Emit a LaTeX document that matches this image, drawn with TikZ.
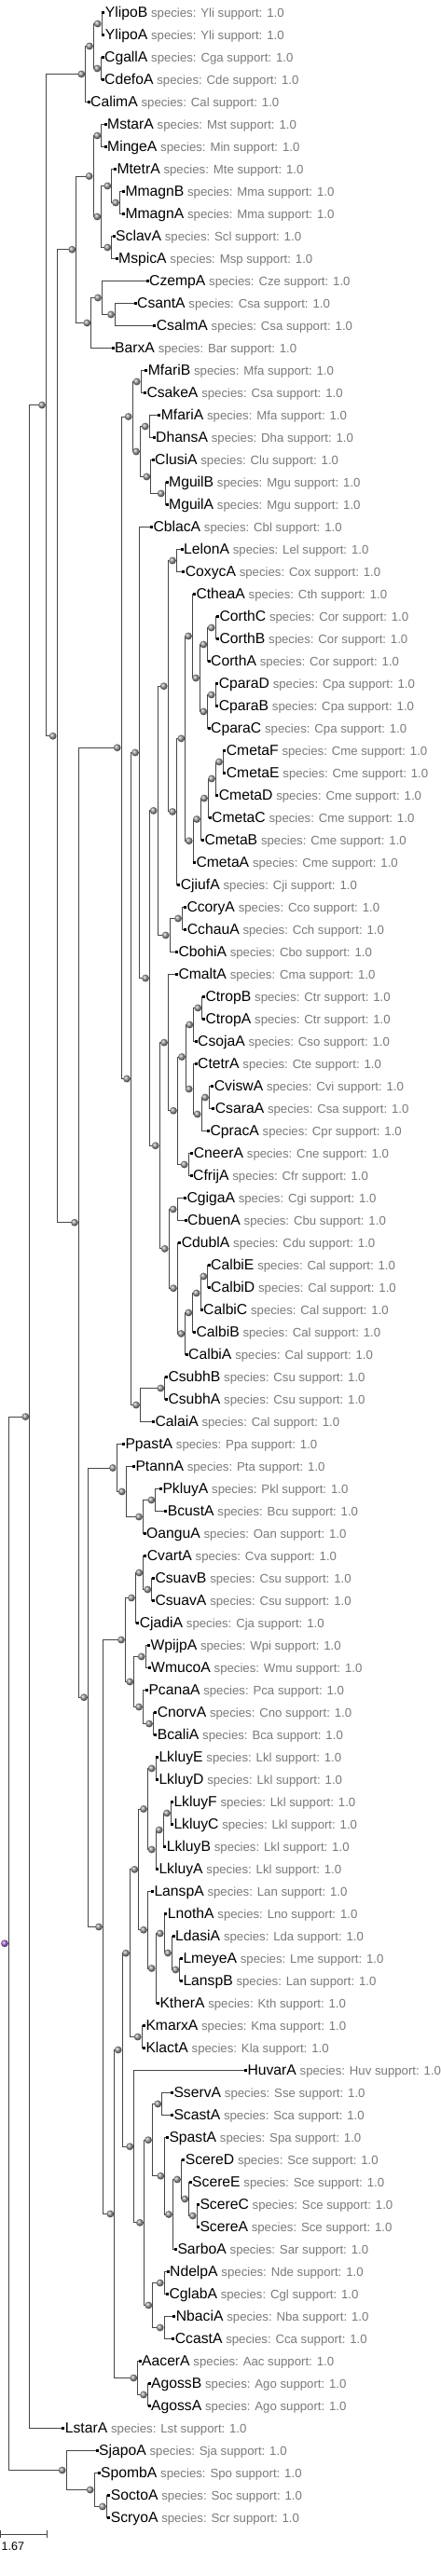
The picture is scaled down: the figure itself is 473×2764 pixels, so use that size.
\documentclass[tikz,border=0pt]{standalone}
\usepackage{fontspec}
\setmainfont{Liberation Sans}
\usetikzlibrary{calc}
\pgfdeclarelayer{bg}
\pgfsetlayers{bg,main}
\definecolor{spgray}{RGB}{122,122,122}
\definecolor{lnc}{RGB}{70,70,70}
\definecolor{rootc}{RGB}{165,100,215}
\newcommand\namefont{\fontsize{15.7bp}{18bp}\selectfont}
\newcommand\specfont{\fontsize{13.2bp}{15bp}\selectfont}
\tikzset{
  br/.style={draw=lnc, line width=1bp},
  sq/.style={rectangle, fill=black, inner sep=0pt, minimum size=3bp},
  sph/.style={circle, inner sep=0pt, minimum size=7.8bp, ball color=gray!80},
  rootsph/.style={circle, inner sep=0pt, minimum size=7.8bp, ball color=rootc},
  lbl/.style={anchor=base west, inner sep=0pt, font=\namefont, text=black}
}
\newcommand\tleaf[4]{%
  \coordinate (#1) at (#3,{24*#2-10.5});
  \node[sq] (#1q) at (#1) {};
  \node[lbl] (#1t) at ($(#1)+(2,5.3)$) {#1\hspace{3.8bp}{\specfont\color{spgray}species: #4 support: 1.0}};
}
\newcommand\tnode[5][sph]{%
  \path let \p1=($(#4)!0.5!(#5)$) in coordinate (#2) at (#3bp,\y1) coordinate (#2v) at (#3bp+4.3bp,\y1);
  \begin{pgfonlayer}{bg}\draw[br] (#4) -- (#2v |- #4) -- (#2v |- #5) -- (#5);\end{pgfonlayer}
  \node[#1] (#2s) at (#2) {};
}
\begin{document}
\begin{tikzpicture}[x=1bp,y=-1bp]
\useasboundingbox (0,0) rectangle (473,2764);
% leaves
\tleaf{YlipoB}{1}{110.7}{Yli}
\tleaf{YlipoA}{2}{110.7}{Yli}
\tleaf{CgallA}{3}{110}{Cga}
\tleaf{CdefoA}{4}{110}{Cde}
\tleaf{CalimA}{5}{95}{Cal}
\tleaf{MstarA}{6}{113}{Mst}
\tleaf{MingeA}{7}{113}{Min}
\tleaf{MtetrA}{8}{123.3}{Mte}
\tleaf{MmagnB}{9}{132.3}{Mma}
\tleaf{MmagnA}{10}{132.3}{Mma}
\tleaf{SclavA}{11}{122}{Scl}
\tleaf{MspicA}{12}{125}{Msp}
\tleaf{CzempA}{13}{158}{Cze}
\tleaf{CsantA}{14}{145}{Csa}
\tleaf{CsalmA}{15}{165.7}{Csa}
\tleaf{BarxA}{16}{121}{Bar}
\tleaf{MfariB}{17}{156.7}{Mfa}
\tleaf{CsakeA}{18}{155.3}{Csa}
\tleaf{MfariA}{19}{170.7}{Mfa}
\tleaf{DhansA}{20}{165}{Dha}
\tleaf{ClusiA}{21}{164}{Clu}
\tleaf{MguilB}{22}{179}{Mgu}
\tleaf{MguilA}{23}{179}{Mgu}
\tleaf{CblacA}{24}{162.3}{Cbl}
\tleaf{LelonA}{25}{195}{Lel}
\tleaf{CoxycA}{26}{196.7}{Cox}
\tleaf{CtheaA}{27}{208.3}{Cth}
\tleaf{CorthC}{28}{233.3}{Cor}
\tleaf{CorthB}{29}{233.3}{Cor}
\tleaf{CorthA}{30}{224}{Cor}
\tleaf{CparaD}{31}{232.7}{Cpa}
\tleaf{CparaB}{32}{232.7}{Cpa}
\tleaf{CparaC}{33}{224}{Cpa}
\tleaf{CmetaF}{34}{240.7}{Cme}
\tleaf{CmetaE}{35}{240.7}{Cme}
\tleaf{CmetaD}{36}{232.7}{Cme}
\tleaf{CmetaC}{37}{225}{Cme}
\tleaf{CmetaB}{38}{217.3}{Cme}
\tleaf{CmetaA}{39}{208.3}{Cme}
\tleaf{CjiufA}{40}{191.7}{Cji}
\tleaf{CcoryA}{41}{198.3}{Cco}
\tleaf{CchauA}{42}{198.7}{Cch}
\tleaf{CbohiA}{43}{189.3}{Cbo}
\tleaf{CmaltA}{44}{189.3}{Cma}
\tleaf{CtropB}{45}{218.3}{Ctr}
\tleaf{CtropA}{46}{218.3}{Ctr}
\tleaf{CsojaA}{47}{210}{Cso}
\tleaf{CtetrA}{48}{210}{Cte}
\tleaf{CviswA}{49}{227.7}{Cvi}
\tleaf{CsaraA}{50}{228.7}{Csa}
\tleaf{CpracA}{51}{223.3}{Cpr}
\tleaf{CneerA}{52}{205.7}{Cne}
\tleaf{CfrijA}{53}{205}{Cfr}
\tleaf{CgigaA}{54}{198.3}{Cgi}
\tleaf{CbuenA}{55}{199}{Cbu}
\tleaf{CdublA}{56}{192.7}{Cdu}
\tleaf{CalbiE}{57}{224}{Cal}
\tleaf{CalbiD}{58}{224}{Cal}
\tleaf{CalbiC}{59}{216}{Cal}
\tleaf{CalbiB}{60}{208.3}{Cal}
\tleaf{CalbiA}{61}{200}{Cal}
\tleaf{CsubhB}{62}{178.3}{Csu}
\tleaf{CsubhA}{63}{178.3}{Csu}
\tleaf{CalaiA}{64}{164.3}{Cal}
\tleaf{PpastA}{65}{132.3}{Ppa}
\tleaf{PtannA}{66}{143.3}{Pta}
\tleaf{PkluyA}{67}{172.3}{Pkl}
\tleaf{BcustA}{68}{177.7}{Bcu}
\tleaf{OanguA}{69}{155}{Oan}
\tleaf{CvartA}{70}{155.7}{Cva}
\tleaf{CsuavB}{71}{164.3}{Csu}
\tleaf{CsuavA}{72}{164.3}{Csu}
\tleaf{CjadiA}{73}{147.7}{Cja}
\tleaf{WpijpA}{74}{159.3}{Wpi}
\tleaf{WmucoA}{75}{160}{Wmu}
\tleaf{PcanaA}{76}{157.3}{Pca}
\tleaf{CnorvA}{77}{166.7}{Cno}
\tleaf{BcaliA}{78}{166.7}{Bca}
\tleaf{LkluyE}{79}{168.3}{Lkl}
\tleaf{LkluyD}{80}{168.3}{Lkl}
\tleaf{LkluyF}{81}{184.3}{Lkl}
\tleaf{LkluyC}{82}{184.3}{Lkl}
\tleaf{LkluyB}{83}{176.7}{Lkl}
\tleaf{LkluyA}{84}{168.3}{Lkl}
\tleaf{LanspA}{85}{163.3}{Lan}
\tleaf{LnothA}{86}{177.7}{Lno}
\tleaf{LdasiA}{87}{186}{Lda}
\tleaf{LmeyeA}{88}{194.3}{Lme}
\tleaf{LanspB}{89}{194.3}{Lan}
\tleaf{KtherA}{90}{169.3}{Kth}
\tleaf{KmarxA}{91}{154.3}{Kma}
\tleaf{KlactA}{92}{154.3}{Kla}
\tleaf{HuvarA}{93}{263.3}{Huv}
\tleaf{SservA}{94}{184.3}{Sse}
\tleaf{ScastA}{95}{184.3}{Sca}
\tleaf{SpastA}{96}{179.3}{Spa}
\tleaf{ScereD}{97}{196.7}{Sce}
\tleaf{ScereE}{98}{204}{Sce}
\tleaf{ScereC}{99}{212.3}{Sce}
\tleaf{ScereA}{100}{212.3}{Sce}
\tleaf{SarboA}{101}{188.3}{Sar}
\tleaf{NdelpA}{102}{180}{Nde}
\tleaf{CglabA}{103}{179.3}{Cgl}
\tleaf{NbaciA}{104}{186.7}{Nba}
\tleaf{CcastA}{105}{185.7}{Cca}
\tleaf{AacerA}{106}{150}{Aac}
\tleaf{AgossB}{107}{160}{Ago}
\tleaf{AgossA}{108}{160}{Ago}
\tleaf{LstarA}{109}{67.7}{Lst}
\tleaf{SjapoA}{110}{104}{Sja}
\tleaf{SpombA}{111}{106}{Spo}
\tleaf{SoctoA}{112}{116.7}{Soc}
\tleaf{ScryoA}{113}{116.7}{Scr}
% internal nodes
\tnode{na1}{104.7}{YlipoB}{YlipoA}
\tnode{na2}{104.3}{CgallA}{CdefoA}
\tnode{na3}{96}{na1}{na2}
\tnode{na4}{87.3}{na3}{CalimA}
\tnode{nb1}{104.3}{MstarA}{MingeA}
\tnode{nb2}{124}{MmagnB}{MmagnA}
\tnode{nb3}{115.3}{MtetrA}{nb2}
\tnode{nb4}{115.3}{SclavA}{MspicA}
\tnode{nb5}{104.3}{nb3}{nb4}
\tnode{nb6}{95.7}{nb1}{nb5}
\tnode{nc1}{119}{CsantA}{CsalmA}
\tnode{nc2}{105}{CzempA}{nc1}
\tnode{nc3}{93.3}{nc2}{BarxA}
\tnode{nX}{77.3}{nb6}{nc3}
\tnode{nd1}{146.7}{MfariB}{CsakeA}
\tnode{nd2}{155.7}{MfariA}{DhansA}
\tnode{nd3}{172.7}{MguilB}{MguilA}
\tnode{nd4}{157.3}{ClusiA}{nd3}
\tnode{nd5}{146}{nd2}{nd4}
\tnode{nF}{137.7}{nd1}{nd5}
\tnode{ne1}{185}{LelonA}{CoxycA}
\tnode{ne2}{226.7}{CorthC}{CorthB}
\tnode{ne3}{218.3}{ne2}{CorthA}
\tnode{ne4}{226.7}{CparaD}{CparaB}
\tnode{ne5}{218.3}{ne4}{CparaC}
\tnode{ne6}{210}{ne3}{ne5}
\tnode{ne7}{202}{CtheaA}{ne6}
\tnode{ne8}{235}{CmetaF}{CmetaE}
\tnode{ne9}{227}{ne8}{CmetaD}
\tnode{ne10}{219}{ne9}{CmetaC}
\tnode{ne11}{211}{ne10}{CmetaB}
\tnode{ne12}{202.7}{ne11}{CmetaA}
\tnode{ne13}{194.3}{ne7}{ne12}
\tnode{ne14}{185}{ne13}{CjiufA}
\tnode{ne15}{175.7}{ne1}{ne14}
\tnode{ne16}{191}{CcoryA}{CchauA}
\tnode{ne17}{177.7}{ne16}{CbohiA}
\tnode{ne18}{164.7}{ne15}{ne17}
\tnode{nf1}{212.3}{CtropB}{CtropA}
\tnode{nf2}{203.3}{nf1}{CsojaA}
\tnode{nf3}{220}{CviswA}{CsaraA}
\tnode{nf4}{211.7}{nf3}{CpracA}
\tnode{nf5}{202.7}{CtetrA}{nf4}
\tnode{nf6}{195}{nf2}{nf5}
\tnode{nf7}{197.7}{CneerA}{CfrijA}
\tnode{nf8}{186}{nf6}{nf7}
\tnode{nf9}{176}{CmaltA}{nf8}
\tnode{nf10}{185.7}{CgigaA}{CbuenA}
\tnode{nf11}{218.3}{CalbiE}{CalbiD}
\tnode{nf12}{210.7}{nf11}{CalbiC}
\tnode{nf13}{202.3}{nf12}{CalbiB}
\tnode{nf14}{194.3}{nf13}{CalbiA}
\tnode{nf15}{186}{CdublA}{nf14}
\tnode{nf16}{176.7}{nf10}{nf15}
\tnode{nf17}{166.7}{nf9}{nf16}
\tnode{nJ}{156}{ne18}{nf17}
\tnode{nI}{145}{CblacA}{nJ}
\tnode{ng1}{172.3}{CsubhB}{CsubhA}
\tnode{ng2}{146}{ng1}{CalaiA}
\tnode{nG}{136}{nI}{ng2}
\tnode{nD}{125.7}{nF}{nG}
\tnode{nh1}{162.3}{PkluyA}{BcustA}
\tnode{nh2}{149}{nh1}{OanguA}
\tnode{nh3}{130.7}{PtannA}{nh2}
\tnode{nh4}{121}{PpastA}{nh3}
\tnode{ni1}{158.3}{CsuavB}{CsuavA}
\tnode{ni2}{149.3}{CvartA}{ni1}
\tnode{ni3}{141}{ni2}{CjadiA}
\tnode{ni4}{151.7}{WpijpA}{WmucoA}
\tnode{ni5}{160}{CnorvA}{BcaliA}
\tnode{ni6}{149}{PcanaA}{ni5}
\tnode{ni7}{139.3}{ni4}{ni6}
\tnode{ni8}{130}{ni3}{ni7}
\tnode{nj1}{162.7}{LkluyE}{LkluyD}
\tnode{nj2}{179}{LkluyF}{LkluyC}
\tnode{nj3}{170.7}{nj2}{LkluyB}
\tnode{nj4}{162.7}{nj3}{LkluyA}
\tnode{nj5}{154}{nj1}{nj4}
\tnode{nj6}{188.3}{LmeyeA}{LanspB}
\tnode{nj7}{180}{LdasiA}{nj6}
\tnode{nj8}{171.7}{LnothA}{nj7}
\tnode{nj9}{162.7}{nj8}{KtherA}
\tnode{nj10}{154}{LanspA}{nj9}
\tnode{nj11}{144.3}{nj5}{nj10}
\tnode{nj12}{147.7}{KmarxA}{KlactA}
\tnode{nj13}{135}{nj11}{nj12}
\tnode{nk1}{169.3}{SservA}{ScastA}
\tnode{nk2}{206.7}{ScereC}{ScereA}
\tnode{nk3}{198.3}{ScereE}{nk2}
\tnode{nk4}{190}{ScereD}{nk3}
\tnode{nk5}{181}{nk4}{SarboA}
\tnode{nk6}{172.3}{SpastA}{nk5}
\tnode{nk7}{159}{nk1}{nk6}
\tnode{nk8}{171.7}{NdelpA}{CglabA}
\tnode{nk9}{171.7}{NbaciA}{CcastA}
\tnode{nk10}{159.3}{nk8}{nk9}
\tnode{nk11}{150}{nk7}{nk10}
\tnode{nk12}{139.3}{HuvarA}{nk11}
\tnode{nk13}{126.7}{nj13}{nk12}
\tnode{nl1}{154}{AgossB}{AgossA}
\tnode{nl2}{143.3}{AacerA}{nl1}
\tnode{nl3}{118.3}{nk13}{nl2}
\tnode{nAN}{106}{ni8}{nl3}
\tnode{nE}{90}{nh4}{nAN}
\tnode{nC}{80}{nD}{nE}
\tnode{nB}{56.7}{nX}{nC}
\tnode{nA}{45}{na4}{nB}
\tnode{nR}{27.3}{nA}{LstarA}
\tnode{nm1}{110}{SoctoA}{ScryoA}
\tnode{nm2}{96.7}{SpombA}{nm1}
\tnode{nm3}{66.7}{SjapoA}{nm2}
\tnode[rootsph]{nroot}{5}{nR}{nm3}
% scale bar
\coordinate (sbl) at (0.5,2719);
\coordinate (sbr) at (50,2719);
\draw[br] (sbl) -- (sbr);
\draw[br] (sbl) ++(0,-4) -- ++(0,8);
\draw[br] (sbr) ++(0,-4) -- ++(0,8);
\node[anchor=base west, inner sep=0pt, font=\fontsize{12.5bp}{14bp}\selectfont] (sbt) at (1.5,2736) {1.67};
\end{tikzpicture}
\end{document}
